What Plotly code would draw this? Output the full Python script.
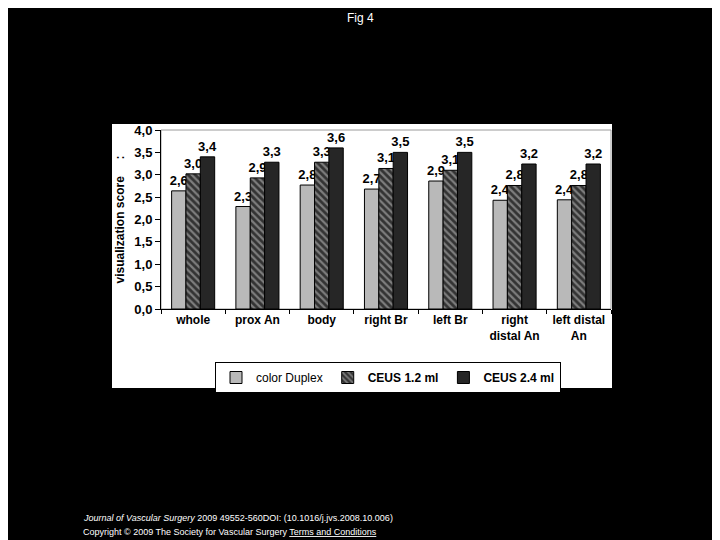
import plotly.graph_objects as go

categories = ["whole", "prox An", "body", "right Br", "left Br",
              "right<br>distal An", "left distal<br>An"]
color_duplex = [2.64, 2.29, 2.77, 2.68, 2.86, 2.43, 2.44]
ceus_12 = [3.02, 2.93, 3.28, 3.14, 3.10, 2.76, 2.76]
ceus_24 = [3.40, 3.28, 3.60, 3.50, 3.50, 3.24, 3.24]
y_ticks = [0, 0.5, 1, 1.5, 2, 2.5, 3, 3.5, 4]

FONT = "Liberation Sans, Arial, sans-serif"

# page has an 8px body margin, so lay things out in window pixels minus that
OFF = 8
L, R, T, B = 161, 611, 130, 309
W, H = R - L, B - T


def px(x):
    return (x - L) / W


def py(y):
    return (B - y) / H


lbl = dict(family=FONT, size=13, color="black", weight="bold")

fig = go.Figure()
fig.add_bar(x=categories, y=color_duplex, name="color Duplex",
            marker=dict(color="#b9b9b9", line=dict(color="black", width=1)),
            texttemplate="%{y:.1f}", textposition="outside", textfont=lbl,
            constraintext="none", cliponaxis=False)
fig.add_bar(x=categories, y=ceus_12, name="<b>CEUS 1.2 ml</b>",
            marker=dict(color="#333333", line=dict(color="black", width=1),
                        pattern=dict(shape="\\", fgcolor="#c8c8c8", size=5,
                                     solidity=0.45)),
            texttemplate="%{y:.1f}", textposition="outside", textfont=lbl,
            constraintext="none", cliponaxis=False)
fig.add_bar(x=categories, y=ceus_24, name="<b>CEUS 2.4 ml</b>",
            marker=dict(color="#262626", line=dict(color="black", width=1)),
            texttemplate="%{y:.1f}", textposition="outside", textfont=lbl,
            constraintext="none", cliponaxis=False)

fig.update_layout(
    width=720, height=540,
    margin=dict(l=L - OFF, r=720 - W - (L - OFF), t=T - OFF, b=540 - H - (T - OFF)),
    paper_bgcolor="black", plot_bgcolor="white",
    separators=",.",
    barmode="group", bargap=0.33, bargroupgap=0,
    font=dict(family=FONT, color="black"),
    showlegend=True,
    legend=dict(orientation="h", x=px(388), xanchor="center", y=py(362), yanchor="top",
                bgcolor="white", bordercolor="black", borderwidth=1,
                font=dict(size=12, color="black"), itemwidth=30,
                tracegroupgap=0),
    xaxis=dict(showline=True, linecolor="black", linewidth=1,
               ticks="outside", tickson="boundaries", ticklen=4, tickcolor="black",
               tickfont=dict(size=12, weight="bold", color="black"),
               showgrid=False),
    yaxis=dict(range=[0, 4], tickvals=y_ticks, tickformat=".1f",
               showline=True, linecolor="black", linewidth=1,
               ticks="outside", ticklen=5, tickcolor="black",
               tickfont=dict(size=13, weight="bold", color="black"),
               showgrid=False, zeroline=False,
               title=dict(text="visualization score     :", standoff=7,
                          font=dict(size=12, weight="bold", color="black"))),
    shapes=[
        dict(type="rect", xref="paper", yref="paper", layer="below",
             x0=px(112), x1=px(612), y0=py(388), y1=py(124),
             fillcolor="white", line=dict(width=0)),
        dict(type="rect", xref="paper", yref="paper", layer="below",
             x0=0, x1=1, y0=0, y1=1,
             line=dict(color="#9a9a9a", width=1)),
    ],
    annotations=[
        dict(text="Fig 4", xref="paper", yref="paper", x=px(360), y=py(18),
             xanchor="center", yanchor="middle",
             showarrow=False, font=dict(size=12, color="white", family=FONT)),
        dict(text="<i>Journal of Vascular Surgery</i> 2009 49552-560DOI: (10.1016/j.jvs.2008.10.006)",
             xref="paper", yref="paper", x=px(81), y=py(518), xanchor="left",
             yanchor="middle",
             showarrow=False, font=dict(size=9, color="white", family=FONT)),
        dict(text="Copyright © 2009 The Society for Vascular Surgery <u>Terms and Conditions</u>",
             xref="paper", yref="paper", x=px(81), y=py(532), xanchor="left",
             yanchor="middle",
             showarrow=False, font=dict(size=9, color="white", family=FONT)),
    ],
)

fig.write_html("out.html")
